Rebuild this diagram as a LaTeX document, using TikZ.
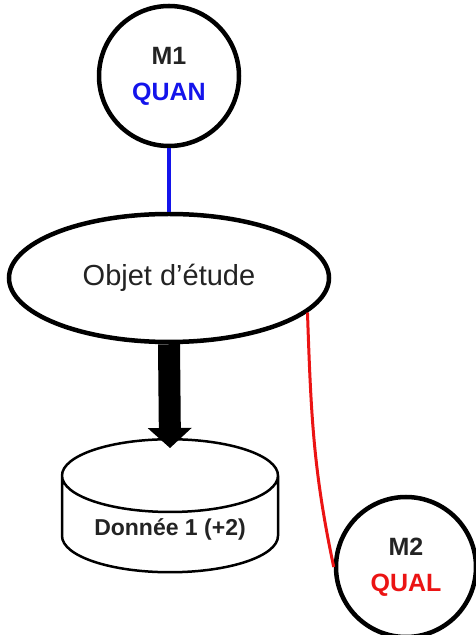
\documentclass[tikz,border=0pt]{standalone}
\usepackage{fontspec}
\setmainfont{Liberation Sans}
\usepackage{xcolor}
\usepackage{tikz}
\usetikzlibrary{positioning, shapes.geometric, arrows.meta}
\definecolor{mxBlue}{RGB}{20, 20, 235}
\definecolor{mxRed}{RGB}{235, 20, 20}
\definecolor{mxDark}{RGB}{35, 35, 35}
\tikzset{
    base/.style={
        align=center,
        text=mxDark
    },
    method/.style={
        base,
        circle,
        draw=black,
        line width=4.5pt,
        fill=white,
        minimum size=140pt,
        inner sep=0pt,
        font=\bfseries\fontsize{25}{36}\selectfont
    },
    subject/.style={
        base,
        ellipse,
        draw=black,
        line width=4.5pt,
        fill=white,
        minimum width=320pt,
        minimum height=128pt,
        font=\fontsize{29}{34}\selectfont
    },
    store/.style={
        base,
        cylinder,
        shape border rotate=90,
        shape aspect=0.46,
        draw=black,
        line width=2.5pt,
        fill=white,
        minimum width=216pt,
        minimum height=133pt,
        font=\bfseries\fontsize{23}{28}\selectfont
    },
    quanlink/.style={
        line width=3.5pt,
        color=mxBlue
    },
    qualflow/.style={
        line width=3pt,
        color=mxRed
    },
    bigflow/.style={
        -{Triangle[width=44pt, length=20pt, line width=0pt]},
        line width=22pt,
        color=black
    }
}

\begin{document}
\begin{tikzpicture}[x=1pt, y=1pt]
    \useasboundingbox (0,0) rectangle (475,635);

    % Nodes
    \node[method] (m1) at (169,559) {M1\\\textcolor{mxBlue}{QUAN}};
    \node[subject] (objet) at (169,357) {Objet d’étude};
    \node[store, anchor=north] (data) at (170,197) {Donnée 1 (+2)};
    \node[method] (m2) at (406,68) {M2\\\textcolor{mxRed}{QUAL}};

    % Links
    \draw[quanlink] (m1) -- (objet);
    \draw[qualflow] (objet.-14) to[out=-88, in=102] (m2.west);
    \draw[bigflow] (objet.south) -- ([yshift=-10pt]data.north);
\end{tikzpicture}
\end{document}
